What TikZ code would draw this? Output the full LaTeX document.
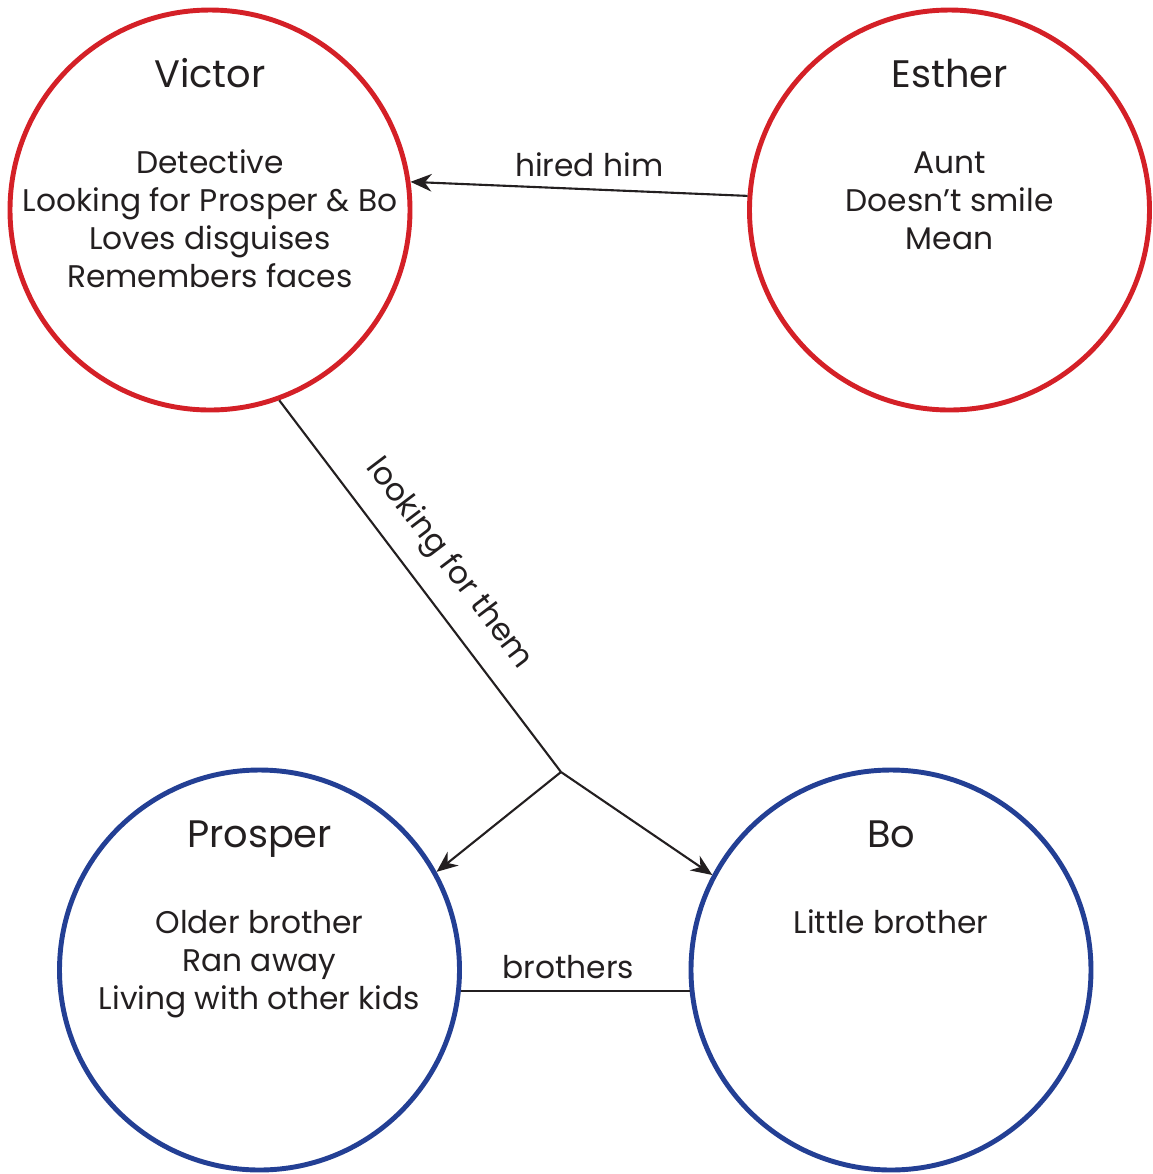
\documentclass[tikz,border=0pt]{standalone}
\usepackage{fontspec}
\setmainfont{Poppins}
\usetikzlibrary{arrows.meta,positioning,calc}
\definecolor{charred}{RGB}{212,32,39}
\definecolor{charblue}{RGB}{35,63,148}
\definecolor{inkgray}{RGB}{35,31,32}

\begin{document}
\begin{tikzpicture}[
    person/.style={draw, circle, line width=1.4pt, minimum size=4.0cm, inner sep=0pt},
    who/.style={anchor=base, font=\fontsize{10.9}{13}\selectfont, text=inkgray},
    facts/.style={anchor=base, align=center, font=\fontsize{8.9}{10.8}\selectfont, text=inkgray},
    rel/.style={draw=inkgray, line width=0.6pt},
    arr/.style={rel, -{Stealth[length=6pt, width=5pt]}},
    lbl/.style={font=\fontsize{8.9}{10.8}\selectfont, text=inkgray}
]
    \useasboundingbox (0,0) rectangle (11.53,-11.74);

    % characters
    \node[person, draw=charred] (vic) at (2.10,-2.10) {};
    \node[person, draw=charred] (est) at (9.495,-2.10) {};
    \node[person, draw=charblue] (pro) at (2.595,-9.70) {};
    \node[person, draw=charblue] (bo) at (8.91,-9.70) {};

    % titles and facts (facts anchored on their last line)
    \node[who] (victitle) at ($(vic)+(0,1.23)$) {Victor};
    \node[facts] (vicfacts) at ($(vic)+(0,-0.77)$) {Detective\\Looking for Prosper \& Bo\\Loves disguises\\Remembers faces};
    \node[who] (esttitle) at ($(est)+(0,1.23)$) {Esther};
    \node[facts] (estfacts) at ($(est)+(0,-0.39)$) {Aunt\\Doesn’t smile\\Mean};
    \node[who] (protitle) at ($(pro)+(0,1.23)$) {Prosper};
    \node[facts] (profacts) at ($(pro)+(0,-0.39)$) {Older brother\\Ran away\\Living with other kids};
    \node[who] (botitle) at ($(bo)+(0,1.23)$) {Bo};
    \node[facts] (bofacts) at ($(bo)+(0,0.37)$) {Little brother};

    % relations
    \coordinate (fork) at (5.61,-7.72);
    \draw[arr] (est.176.3) -- node[lbl, above, pos=0.47] {hired him} (vic.8.5);
    \draw[rel] (vic.-70) -- node[lbl, sloped, above=2pt] {looking for them} (fork);
    \draw[arr] (fork) -- (pro.29.2);
    \draw[arr] (fork) -- (bo.152.5);
    \draw[rel] (pro.-6.5) -- node[lbl, above, pos=0.47] {brothers} (bo.186);
\end{tikzpicture}
\end{document}
